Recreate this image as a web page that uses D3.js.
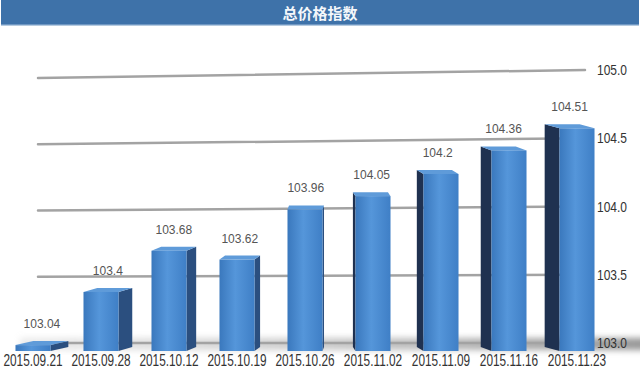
<!DOCTYPE html>
<html>
<head>
<meta charset="utf-8">
<script src="https://cdn.jsdelivr.net/npm/d3@7"></script>
<style>
  html, body { margin: 0; padding: 0; background: #fff; }
  svg { display: block; }
</style>
</head>
<body>
<svg id="chart" width="640" height="384"></svg>
<script>
const title = "总价格指数";
const categories = ["2015.09.21","2015.09.28","2015.10.12","2015.10.19","2015.10.26","2015.11.02","2015.11.09","2015.11.16","2015.11.23"];
const values = [103.04, 103.4, 103.68, 103.62, 103.96, 104.05, 104.2, 104.36, 104.51];
const valueLabels = ["103.04","103.4","103.68","103.62","103.96","104.05","104.2","104.36","104.51"];
const tickValues = [103.0, 103.5, 104.0, 104.5, 105.0];
const tickLabels = ["103.0","103.5","104.0","104.5","105.0"];

const svg = d3.select("#chart");
const W = 640, H = 384;
const font = "'Liberation Sans', Arial, sans-serif";

const defs = svg.append("defs");
const gFront = defs.append("linearGradient").attr("id", "front").attr("x1", 0).attr("x2", 1).attr("y1", 0).attr("y2", 0);
gFront.append("stop").attr("offset", "0%").attr("stop-color", "#3a78bd");
gFront.append("stop").attr("offset", "45%").attr("stop-color", "#5596da");
gFront.append("stop").attr("offset", "100%").attr("stop-color", "#3f7fc6");
const gShadow = defs.append("linearGradient").attr("id", "floor").attr("x1", 0).attr("x2", 1).attr("y1", 0).attr("y2", 0);
gShadow.append("stop").attr("offset", "0%").attr("stop-color", "#bbb").attr("stop-opacity", 0.3);
gShadow.append("stop").attr("offset", "100%").attr("stop-color", "#888").attr("stop-opacity", 0.9);
defs.append("filter").attr("id", "blur").attr("x", "-10%").attr("y", "-100%").attr("width", "120%").attr("height", "300%")
  .append("feGaussianBlur").attr("stdDeviation", 3);

// Title bar
svg.append("rect").attr("x", 1).attr("y", 0).attr("width", W - 2).attr("height", 25).attr("fill", "#3e72a9");
svg.append("rect").attr("x", 1).attr("y", 24).attr("width", W - 2).attr("height", 1.5).attr("fill", "#6f97c2");
svg.append("text").attr("x", W / 2).attr("y", 18.5).attr("text-anchor", "middle")
  .attr("fill", "#f4f7fb").attr("font-size", 15).attr("font-weight", "bold")
  .attr("font-family", "'Noto Sans CJK SC', sans-serif").text(title);

// Scales
const x = d3.scaleBand().domain(categories).range([-1, 611]).paddingInner(0.485).paddingOuter(0.2425);
const yGrid = d3.scaleLinear().domain([103, 105]).range([343, 70]);
const yBar = d3.scaleLinear().domain([103, 105]).range([351, 56]);
const gridLeft = 38, gridRight = 585;
const tilt = v => 4 * (v - 103);

// Floor shadow
svg.append("rect").attr("x", 20).attr("y", 338).attr("width", 640).attr("height", 12)
  .attr("fill", "url(#floor)").attr("filter", "url(#blur)");

// Gridlines
svg.append("g").selectAll("line").data(tickValues).join("line")
  .attr("x1", gridLeft).attr("x2", gridRight)
  .attr("y1", d => yGrid(d) + tilt(d)).attr("y2", d => yGrid(d))
  .attr("stroke", "#a3a3a3").attr("stroke-width", 2.5).attr("stroke-linecap", "round");

// Right axis labels (condensed via horizontal scale)
const axisScale = 0.8;
svg.append("g").selectAll("text").data(tickValues).join("text")
  .attr("transform", d => `translate(597,${yGrid(d) + 5}) scale(${axisScale},1)`)
  .attr("font-size", 15).attr("font-family", font).attr("fill", "#333")
  .text((d, i) => tickLabels[i]);

// Bars
const depth = 4;
const bw = x.bandwidth();
const data = categories.map((c, i) => ({ c, v: values[i], label: valueLabels[i] }));
const bars = svg.append("g").selectAll("g").data(data).join("g");
bars.each(function(d) {
  const g = d3.select(this);
  const x0 = x(d.c), x1 = x0 + bw;
  const cx = x0 + bw / 2;
  const dx = (330 - cx) * 0.06;
  const yt = yBar(d.v), yb = yBar(103);
  const sx = dx >= 0 ? x1 : x0;
  g.append("path")
    .attr("d", `M${sx},${yt} L${sx + dx},${yt - depth} L${sx + dx},${yb - depth} L${sx},${yb} Z`)
    .attr("fill", dx >= 0 ? "#2b4f7f" : "#1f3150");
  g.append("path")
    .attr("d", `M${x0},${yt} L${x1},${yt} L${x1 + dx},${yt - depth} L${x0 + dx},${yt - depth} Z`)
    .attr("fill", "#5f9bd9");
  g.append("rect").attr("x", x0).attr("y", yt).attr("width", bw).attr("height", yb - yt)
    .attr("fill", "url(#front)");
  g.append("text").attr("x", cx + dx / 2).attr("y", yt - depth - 13)
    .attr("text-anchor", "middle").attr("font-size", 12).attr("font-family", font)
    .attr("fill", "#555").text(d.label);
});

// Category labels (condensed via horizontal scale)
const catScale = 0.74;
svg.append("g").selectAll("text").data(categories).join("text")
  .attr("transform", d => `translate(${x(d) + bw / 2},366) scale(${catScale},1)`)
  .attr("text-anchor", "middle").attr("font-size", 16).attr("font-family", font)
  .attr("fill", "#333")
  .text(d => d);
</script>
</body>
</html>
